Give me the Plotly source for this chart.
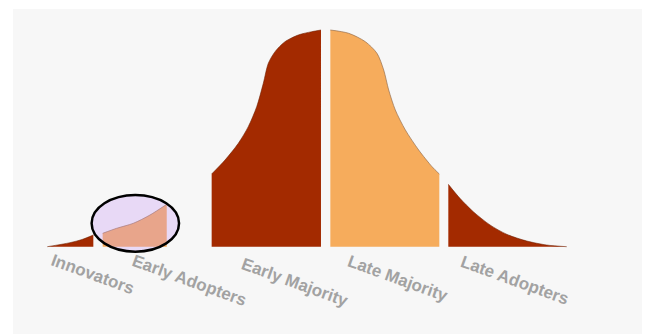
import plotly.graph_objects as go

# Adoption curve, split into five adopter groups.
# x: position along the curve (standard deviations from the mean)
# y: relative share of adopters (peak = 40)
innovators_x = [-2.445, -2.246, -2.140, -2.041]
innovators_y = [0.0, 0.74, 1.33, 2.16]

early_adopters_x = [-1.959, -1.836, -1.690, -1.544, -1.397]
early_adopters_y = [2.47, 3.40, 4.32, 5.85, 7.83]

early_majority_x = [-1.003, -0.886, -0.769, -0.682, -0.608, -0.550, -0.506,
                    -0.447, -0.360, -0.243, -0.125, -0.044]
early_majority_y = [13.42, 16.00, 19.09, 22.15, 25.84, 30.16, 33.85,
                    36.00, 37.84, 39.08, 39.69, 40.00]

late_majority_x = [0.038, 0.199, 0.345, 0.447, 0.506, 0.550, 0.608,
                   0.696, 0.813, 0.930, 0.994]
late_majority_y = [40.00, 39.39, 37.84, 35.70, 32.62, 28.93, 25.24,
                   21.55, 17.85, 14.77, 13.42]

late_adopters_x = [1.073, 1.175, 1.292, 1.439, 1.585, 1.761, 1.936, 2.112]
late_adopters_y = [11.52, 8.93, 6.46, 4.01, 2.29, 1.05, 0.31, 0.0]

group_labels = ["Innovators", "Early Adopters", "Early Majority",
                "Late Majority", "Late Adopters"]
label_x = [-2.044, -1.202, -0.272, 0.627, 1.658]
label_y = [-5.22, -6.33, -6.52, -5.96, -6.15]

DARK = "#a32a00"
LIGHT = "#f6ac5c"

segments = [
    (innovators_x, innovators_y, DARK, "rgba(110,30,0,0.7)"),
    (early_adopters_x, early_adopters_y, LIGHT, "rgba(140,100,70,0.8)"),
    (early_majority_x, early_majority_y, DARK, "rgba(110,30,0,0.7)"),
    (late_majority_x, late_majority_y, LIGHT, "rgba(140,100,70,0.8)"),
    (late_adopters_x, late_adopters_y, DARK, "rgba(110,30,0,0.7)"),
]

fig = go.Figure()
for xs, ys, fill, edge in segments:
    fig.add_trace(go.Scatter(
        x=xs, y=ys, mode="lines",
        line=dict(shape="spline", smoothing=0.8, color=edge, width=0.8),
        fill="tozeroy", fillcolor=fill,
        hoverinfo="skip", showlegend=False,
    ))

# Highlight ring around the early adopters
pad_left, pad_right, pad_top, pad_bottom = 0.097, 0.108, 1.72, 0.92
fig.add_shape(
    type="circle", xref="x", yref="y",
    x0=min(early_adopters_x) - pad_left, x1=max(early_adopters_x) + pad_right,
    y0=0 - pad_bottom, y1=max(early_adopters_y) + pad_top,
    fillcolor="rgba(199,153,244,0.31)",
    line=dict(color="black", width=2.5),
    layer="above",
)

for text, lx, ly in zip(group_labels, label_x, label_y):
    fig.add_annotation(
        x=lx, y=ly, xref="x", yref="y", text=text, showarrow=False,
        textangle=20, xanchor="center", yanchor="middle",
        font=dict(family="Liberation Sans, Arial, sans-serif", size=17,
                  color="#a2a2a2", weight="bold"),
    )

fig.update_layout(
    width=650, height=334, autosize=False,
    margin=dict(l=13, r=8, t=9, b=0, pad=0),
    paper_bgcolor="white", plot_bgcolor="#f7f7f7",
    xaxis=dict(range=[-2.7456, 2.7719], visible=False, fixedrange=True),
    yaxis=dict(range=[-16.115, 43.876], visible=False, fixedrange=True),
)

fig.write_html("out.html")
